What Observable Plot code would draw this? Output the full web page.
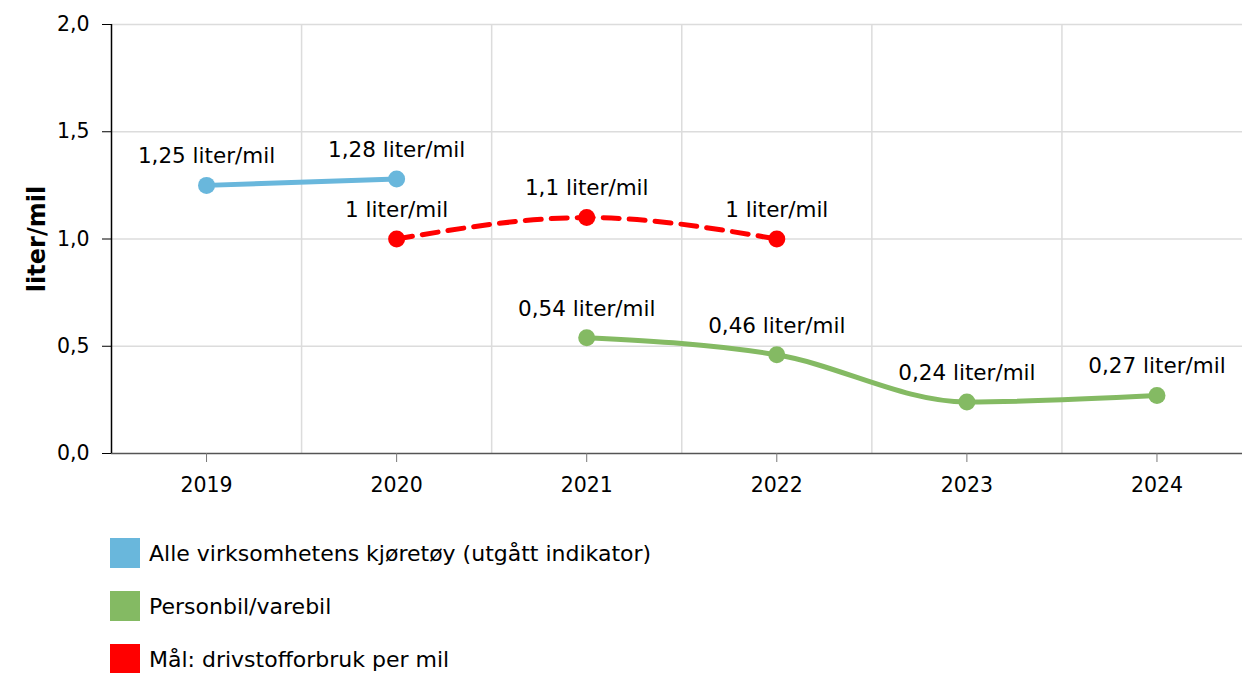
<!DOCTYPE html>
<html>
<head>
<meta charset="utf-8">
<script src="https://cdn.jsdelivr.net/npm/d3@7"></script>
<script src="https://cdn.jsdelivr.net/npm/@observablehq/plot@0.6"></script>
<style>
  html, body { margin: 0; padding: 0; background: #fff; overflow: hidden; }
  body { font-family: "DejaVu Sans", Verdana, sans-serif; }
  #chart svg { display: block; }
  g[aria-label="y-axis label"] text { font-weight: bold; font-size: 24px; }
  .legend { margin-left: 110px; margin-top: 23px; }
  .legend .row { display: flex; align-items: center; height: 30px; margin-bottom: 23px; font-size: 22px; color: #000; }
  .legend .sw { width: 30px; height: 30px; margin-right: 9px; }
</style>
</head>
<body>
<div id="chart"></div>
<div class="legend" id="legend"></div>
<script>
const years = [2019, 2020, 2021, 2022, 2023, 2024];
const yTicks = [0, 0.5, 1, 1.5, 2];

const blueYears = [2019, 2020];
const blueValues = [1.25, 1.28];
const redYears = [2020, 2021, 2022];
const redValues = [1, 1.1, 1];
const greenYears = [2021, 2022, 2023, 2024];
const greenValues = [0.54, 0.46, 0.24, 0.27];

const seriesNames = ["Alle virksomhetens kjøretøy (utgått indikator)", "Personbil/varebil", "Mål: drivstofforbruk per mil"];
const seriesColors = ["#69b7dc", "#84ba63", "#ff0000"];

const toRows = (ys, vs) => ys.map((x, i) => ({x, y: vs[i]}));
const blue = toRows(blueYears, blueValues);
const red = toRows(redYears, redValues);
const green = toRows(greenYears, greenValues);
const fmtNum = v => String(v).replace(".", ",");
const label = d => fmtNum(d.y) + " liter/mil";
const bounds = years.slice(0, -1).map(y => y + 0.5);

const plot = Plot.plot({
  width: 1242,
  height: 515,
  marginLeft: 111,
  marginRight: 0,
  marginTop: 24,
  marginBottom: 62,
  style: {fontFamily: "DejaVu Sans, Verdana, sans-serif", fontSize: "20px", color: "#000", background: "#fff"},
  x: {type: "linear", domain: [2018.5, 2024.45]},
  y: {domain: [0, 2]},
  marks: [
    Plot.ruleY(yTicks.filter(v => v > 0), {stroke: "#dcdcdc", strokeWidth: 1.5}),
    Plot.ruleX(bounds, {stroke: "#dcdcdc", strokeWidth: 1.5}),
    Plot.ruleY([0], {stroke: "#555", strokeWidth: 1.5}),
    Plot.ruleX([2018.5], {stroke: "#000", strokeWidth: 1.5}),
    Plot.axisY({ticks: yTicks, tickFormat: v => v.toFixed(1).replace(".", ","), tickSize: 9, tickPadding: 13, stroke: "#000", label: "liter/mil", labelAnchor: "center", labelArrow: "none", labelOffset: 84, fontSize: 20.5}),
    Plot.axisX({ticks: years, tickFormat: d => String(d), tickSize: 9, tickPadding: 15, stroke: "#777", label: null, fontSize: 20.5}),
    Plot.line(blue, {x: "x", y: "y", stroke: seriesColors[0], strokeWidth: 5, curve: "monotone-x"}),
    Plot.line(red, {x: "x", y: "y", stroke: seriesColors[2], strokeWidth: 5, strokeDasharray: "16,10", curve: "monotone-x"}),
    Plot.line(green, {x: "x", y: "y", stroke: seriesColors[1], strokeWidth: 5, curve: "monotone-x"}),
    Plot.dot(blue, {x: "x", y: "y", fill: seriesColors[0], r: 8.5}),
    Plot.dot(red, {x: "x", y: "y", fill: seriesColors[2], r: 8.5}),
    Plot.dot(green, {x: "x", y: "y", fill: seriesColors[1], r: 8.5}),
    Plot.text(blue, {x: "x", y: "y", text: label, dy: -29, fill: "#000", fontSize: 21.5}),
    Plot.text(red, {x: "x", y: "y", text: label, dy: -29, fill: "#000", fontSize: 21.5}),
    Plot.text(green, {x: "x", y: "y", text: label, dy: -29, fill: "#000", fontSize: 21.5})
  ]
});
document.getElementById("chart").appendChild(plot);

const legend = document.getElementById("legend");
seriesNames.forEach((name, i) => {
  const row = document.createElement("div");
  row.className = "row";
  const sw = document.createElement("div");
  sw.className = "sw";
  sw.style.background = seriesColors[i];
  const t = document.createElement("span");
  t.textContent = name;
  row.appendChild(sw);
  row.appendChild(t);
  legend.appendChild(row);
});
</script>
</body>
</html>
